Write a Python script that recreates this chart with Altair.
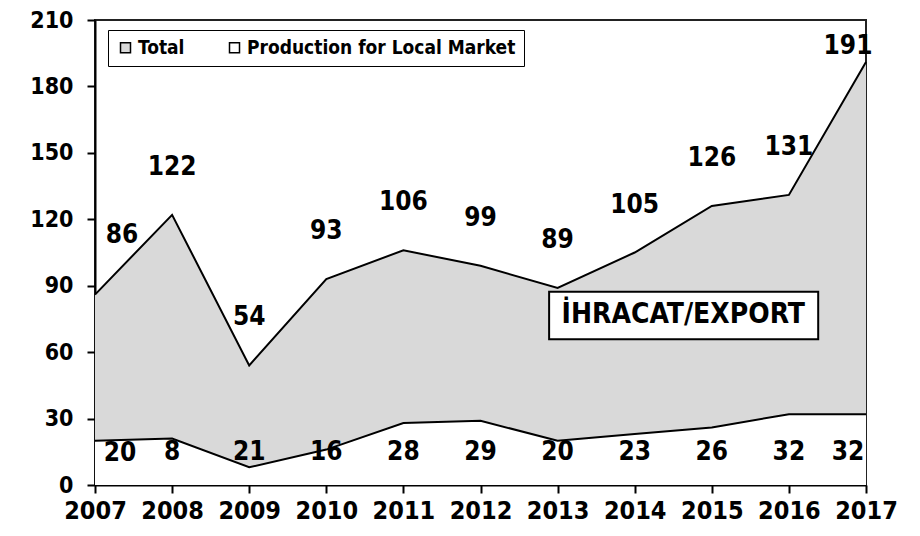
import altair as alt
import pandas as pd

years = [2007, 2008, 2009, 2010, 2011, 2012, 2013, 2014, 2015, 2016, 2017]
total = [86, 122, 54, 93, 106, 99, 89, 105, 126, 131, 191]
local = [20, 21, 8, 16, 28, 29, 20, 23, 26, 32, 32]
local_labels = ["20", "8", "21", "16", "28", "29", "20", "23", "26", "32", "32"]
series_names = ["Total", "Production for Local Market"]
series_colors = ["#d9d9d9", "#ffffff"]
y_ticks = [0, 30, 60, 90, 120, 150, 180, 210]
annotation_text = "İHRACAT/EXPORT"
annotation_year = 2014.63
annotation_value = 76.6
annotation_box_years = [2012.89, 2016.38]
annotation_box_values = [65.8, 87.3]

FONT = "DejaVu Sans Condensed, DejaVu Sans"

df = pd.DataFrame({"year": years, "total": total, "local": local,
                   "local_label": local_labels})

x_scale = alt.Scale(domain=[years[0], years[-1]], nice=False, zero=False)
x_enc = alt.X("year:Q", title=None, scale=x_scale,
              axis=alt.Axis(values=years, format="d", labelFontSize=25,
                            labelPadding=5, labelFlush=False))
y_scale = alt.Scale(domain=[0, 210], nice=False)
y_axis = alt.Axis(values=y_ticks, labelFontSize=23, labelPadding=14)
color_scale = alt.Scale(domain=series_names, range=series_colors)
legend = alt.Legend(orient="none", legendX=13, legendY=10, direction="horizontal",
                    title=None, strokeColor="black", fillColor="white", padding=8,
                    symbolType="square", symbolSize=100, symbolStrokeColor="black",
                    symbolStrokeWidth=1.5, symbolOpacity=1, labelFont=FONT,
                    labelFontSize=19, labelFontWeight="bold", labelColor="black",
                    labelLimit=0, columnPadding=40, labelOffset=3)
color_enc = alt.Color("series:N", scale=color_scale, legend=legend)

base = alt.Chart(df)

area_total = base.transform_calculate(series=f"'{series_names[0]}'").mark_area(
    opacity=1).encode(
    x=x_enc,
    y=alt.Y("total:Q", scale=y_scale, axis=y_axis, title=None),
    color=color_enc,
)
area_local = base.transform_calculate(series=f"'{series_names[1]}'").mark_area(
    opacity=1).encode(
    x=x_enc,
    y=alt.Y("local:Q", scale=y_scale, title=None),
    color=color_enc,
)
line_total = base.mark_line(color="black", strokeWidth=2).encode(
    x=x_enc, y=alt.Y("total:Q", scale=y_scale))
line_local = base.mark_line(color="black", strokeWidth=2).encode(
    x=x_enc, y=alt.Y("local:Q", scale=y_scale))

text_style = dict(font=FONT, fontSize=26, fontWeight="bold", color="black")

lab_total_mid = base.transform_filter(
    (alt.datum.year > years[0]) & (alt.datum.year < years[-1])
).mark_text(dy=-48, **text_style).encode(
    x=x_enc, y=alt.Y("total:Q", scale=y_scale), text="total:Q")
lab_total_first = base.transform_filter(alt.datum.year == years[0]).mark_text(
    dx=27, dy=-60, **text_style).encode(
    x=x_enc, y=alt.Y("total:Q", scale=y_scale), text="total:Q")
lab_total_last = base.transform_filter(alt.datum.year == years[-1]).mark_text(
    dx=-18, dy=-16, **text_style).encode(
    x=x_enc, y=alt.Y("total:Q", scale=y_scale), text="total:Q")

lab_local_mid = base.transform_filter(
    (alt.datum.year > years[0]) & (alt.datum.year < years[-1])
).mark_text(**text_style).encode(
    x=x_enc, y=alt.value(432), text="local_label:N")
lab_local_first = base.transform_filter(alt.datum.year == years[0]).mark_text(
    dx=25, **text_style).encode(
    x=x_enc, y=alt.value(433), text="local_label:N")
lab_local_last = base.transform_filter(alt.datum.year == years[-1]).mark_text(
    dx=-18, **text_style).encode(
    x=x_enc, y=alt.value(432), text="local_label:N")

ann_df = pd.DataFrame({"x1": [annotation_box_years[0]], "x2": [annotation_box_years[1]],
                       "y1": [annotation_box_values[0]], "y2": [annotation_box_values[1]],
                       "tx": [annotation_year], "ty": [annotation_value],
                       "label": [annotation_text]})
ann_box = alt.Chart(ann_df).mark_rect(fill="white", stroke="black", strokeWidth=2).encode(
    x=alt.X("x1:Q", scale=x_scale), x2="x2:Q",
    y=alt.Y("y1:Q", scale=y_scale), y2="y2:Q")
ann_text = alt.Chart(ann_df).mark_text(
    font=FONT, fontSize=28, fontWeight="bold", color="black").encode(
    x=alt.X("tx:Q", scale=x_scale),
    y=alt.Y("ty:Q", scale=y_scale), text="label:N")

chart = alt.layer(
    area_total, area_local, line_total, line_local,
    lab_total_mid, lab_total_first, lab_total_last,
    lab_local_mid, lab_local_first, lab_local_last,
    ann_box, ann_text,
).properties(
    width=771, height=465,
    autosize=alt.AutoSizeParams(type="none"),
    padding={"left": 87, "top": 12, "right": 38, "bottom": 43},
).configure_view(
    stroke="#222222", strokeWidth=2
).configure_axis(
    grid=False, domainColor="black", domainWidth=2, tickColor="black",
    tickWidth=2, tickSize=8, labelFont=FONT, labelFontWeight="bold",
    labelColor="black", title=None,
)

chart.save("out.html", embed_options={"renderer": "svg", "actions": False})
